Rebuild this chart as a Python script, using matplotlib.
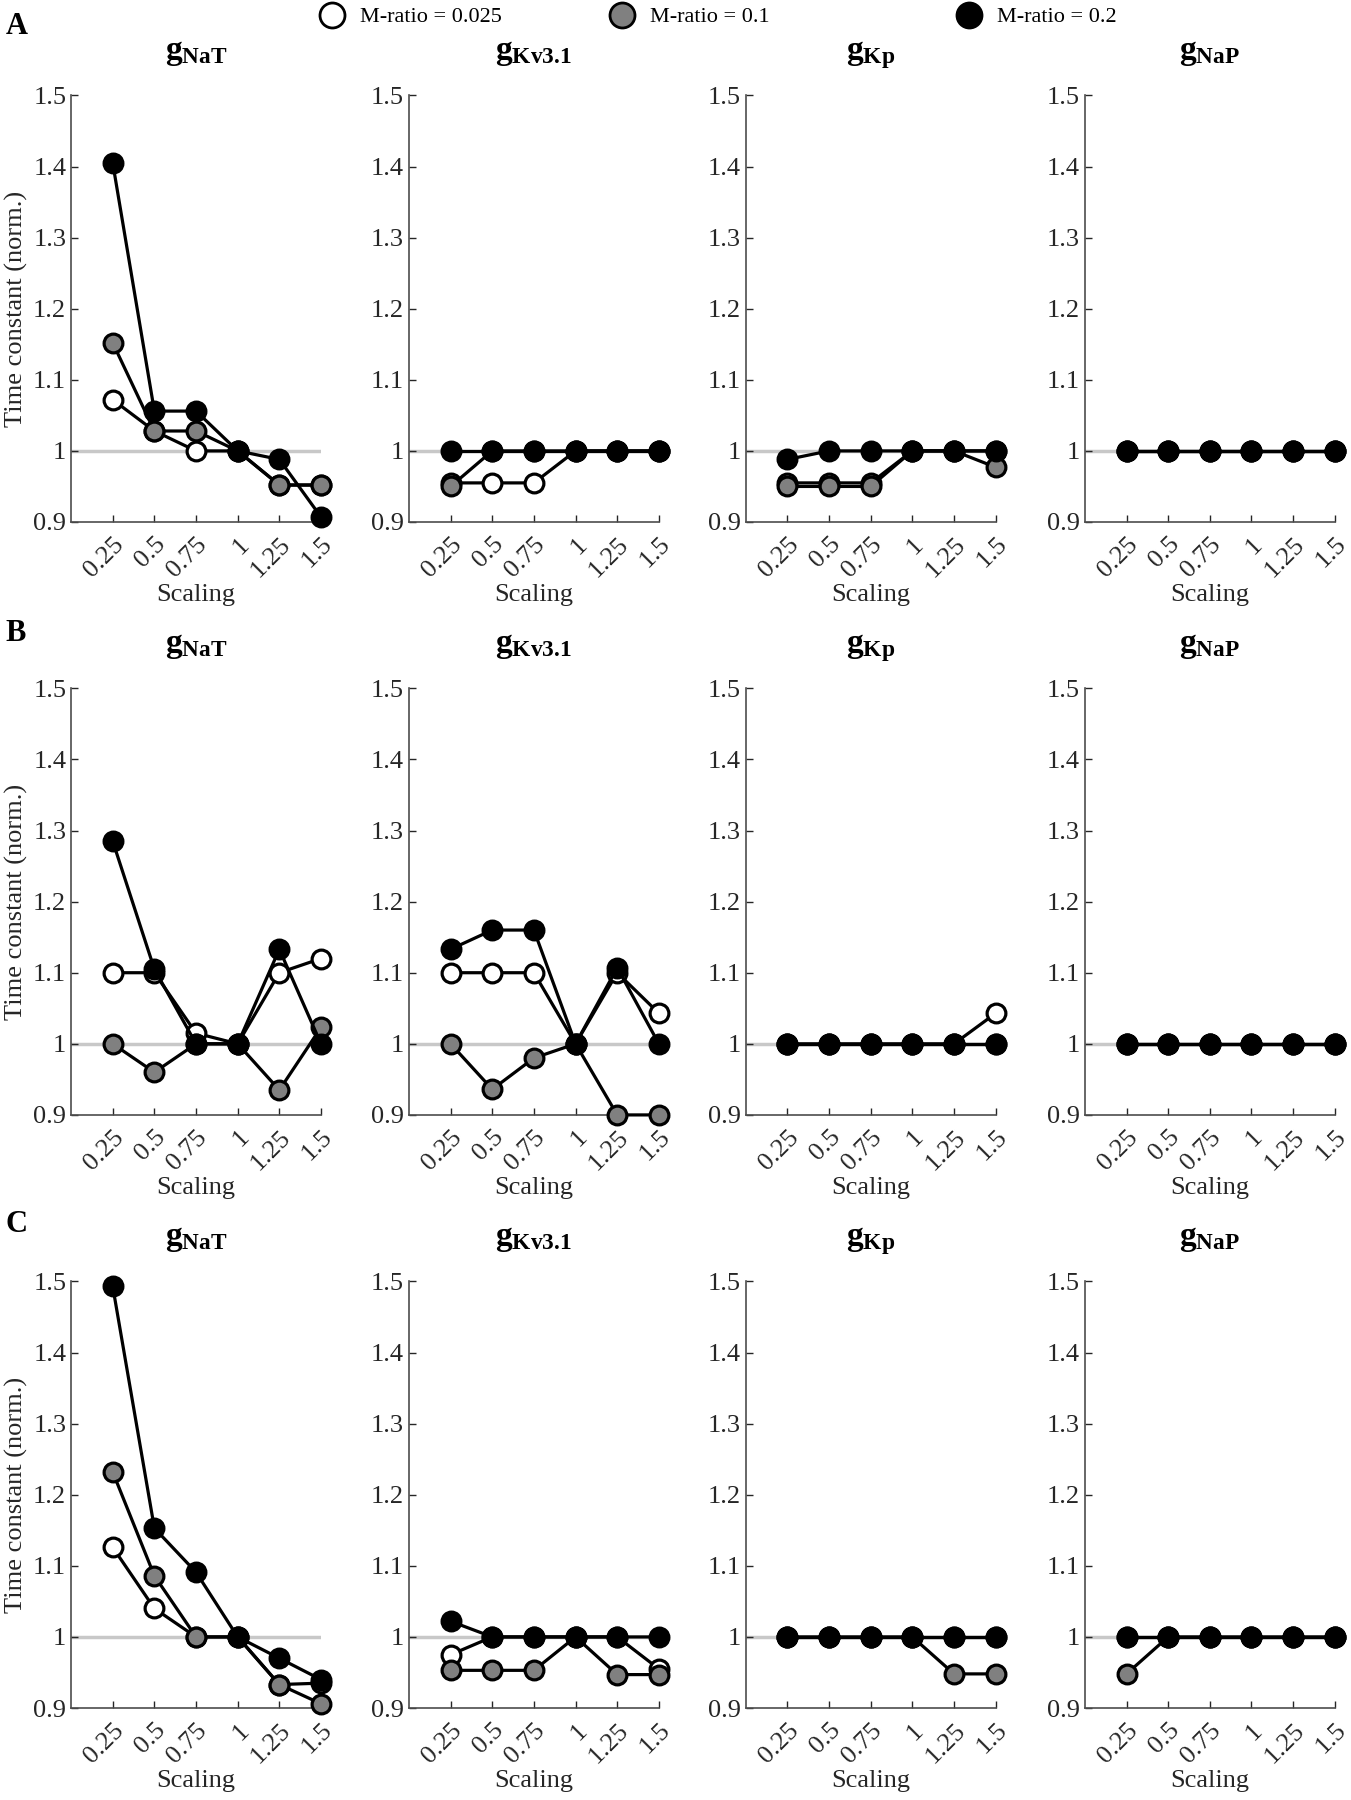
import numpy as np
import matplotlib
matplotlib.use("Agg")
import matplotlib.pyplot as plt
from matplotlib.lines import Line2D

plt.rcParams["font.family"] = ["Liberation Serif", "DejaVu Serif"]
plt.rcParams["mathtext.fontset"] = "custom"
plt.rcParams["mathtext.rm"] = "Liberation Serif"
plt.rcParams["mathtext.bf"] = "Liberation Serif:bold"

scaling = [0.25, 0.5, 0.75, 1.0, 1.25, 1.5]
tick_labels = ["0.25", "0.5", "0.75", "1", "1.25", "1.5"]
channels = ["NaT", "Kv3.1", "Kp", "NaP"]
panels = ["A", "B", "C"]
ratio_labels = ["M-ratio = 0.025", "M-ratio = 0.1", "M-ratio = 0.2"]
fills = ["white", "#808080", "black"]

# values per panel -> channel -> [M 0.025, M 0.1, M 0.2]
A_NaT = [[1.072, 1.028, 1.0, 1.0, 0.952, 0.952],
         [1.152, 1.028, 1.028, 1.0, 0.952, 0.952],
         [1.405, 1.056, 1.056, 1.0, 0.988, 0.907]]
A_Kv31 = [[0.955, 0.955, 0.955, 1.0, 1.0, 1.0],
          [0.950, 1.0, 1.0, 1.0, 1.0, 1.0],
          [1.0, 1.0, 1.0, 1.0, 1.0, 1.0]]
A_Kp = [[0.955, 0.955, 0.955, 1.0, 1.0, 1.0],
        [0.950, 0.950, 0.950, 1.0, 1.0, 0.977],
        [0.988, 1.0, 1.0, 1.0, 1.0, 1.0]]
A_NaP = [[1.0] * 6, [1.0] * 6, [1.0] * 6]

B_NaT = [[1.10, 1.10, 1.015, 1.0, 1.10, 1.12],
         [1.0, 0.96, 1.0, 1.0, 0.935, 1.023],
         [1.285, 1.105, 1.0, 1.0, 1.133, 1.0]]
B_Kv31 = [[1.10, 1.10, 1.10, 1.0, 1.10, 1.043],
          [1.0, 0.936, 0.98, 1.0, 0.90, 0.90],
          [1.133, 1.16, 1.16, 1.0, 1.107, 1.0]]
B_Kp = [[1.0, 1.0, 1.0, 1.0, 1.0, 1.043],
        [1.0] * 6,
        [1.0] * 6]
B_NaP = [[1.0] * 6, [1.0] * 6, [1.0] * 6]

C_NaT = [[1.126, 1.04, 1.0, 1.0, 0.933, 0.935],
         [1.232, 1.086, 1.0, 1.0, 0.933, 0.906],
         [1.493, 1.153, 1.091, 1.0, 0.97, 0.94]]
C_Kv31 = [[0.975, 1.0, 1.0, 1.0, 1.0, 0.955],
          [0.953, 0.953, 0.953, 1.0, 0.947, 0.947],
          [1.022, 1.0, 1.0, 1.0, 1.0, 1.0]]
C_Kp = [[1.0] * 6,
        [1.0, 1.0, 1.0, 1.0, 0.948, 0.948],
        [1.0] * 6]
C_NaP = [[1.0] * 6,
         [0.948, 1.0, 1.0, 1.0, 1.0, 1.0],
         [1.0] * 6]

data = [[A_NaT, A_Kv31, A_Kp, A_NaP],
        [B_NaT, B_Kv31, B_Kp, B_NaP],
        [C_NaT, C_Kv31, C_Kp, C_NaP]]

fig = plt.figure(figsize=(13.51, 18), dpi=100)

col_left = [0.0526, 0.3027, 0.552, 0.803]
row_bottom = [0.710, 0.3806, 0.0511]
w, h = 0.185, 0.237
axis_col = "#4d4d4d"

for r in range(3):
    for c in range(4):
        ax = fig.add_axes([col_left[c], row_bottom[r], w, h])
        ax.plot([0, 1.5], [1, 1], color="#c8c8c8", lw=2.5, zorder=1)
        for k in range(3):
            ax.plot(scaling, data[r][c][k], "-o", color="black", lw=2.3,
                    markersize=13.5, markerfacecolor=fills[k],
                    markeredgecolor="black", markeredgewidth=2.3,
                    zorder=2 + k, clip_on=False)
        ax.set_xlim(0, 1.5)
        ax.set_ylim(0.9, 1.5)
        ax.set_yticks([0.9, 1.0, 1.1, 1.2, 1.3, 1.4, 1.5])
        ax.set_yticklabels(["0.9", "1", "1.1", "1.2", "1.3", "1.4", "1.5"])
        ax.set_xticks(scaling)
        ax.set_xticklabels(tick_labels, rotation=45, ha="right",
                           rotation_mode="anchor")
        ax.tick_params(direction="in", length=5, labelsize=19,
                       colors="#262626", width=1)
        ax.tick_params(axis="x", pad=8)
        for s in ["top", "right"]:
            ax.spines[s].set_visible(False)
        for s in ["left", "bottom"]:
            ax.spines[s].set_color(axis_col)
            ax.spines[s].set_linewidth(1.2)
        ax.set_xlabel("Scaling", fontsize=19, color="#262626", labelpad=2)
        if c == 0:
            ax.set_ylabel("Time constant (norm.)", fontsize=19,
                          color="#262626", labelpad=4)
        ax.set_title(r"$\mathbf{g_{%s}}$" % channels[c], fontsize=24, pad=26)

for r, letter in enumerate(panels):
    y = [0.985, 0.648, 0.32][r]
    fig.text(0.004, y, letter, fontsize=22, fontweight="bold", va="center")

# legend entries sit at fixed positions across the top
legend_x = [0.2333, 0.4483, 0.7048]
for k in range(3):
    hnd = Line2D([], [], ls="none", marker="o", markersize=18,
                 markerfacecolor=fills[k], markeredgecolor="black",
                 markeredgewidth=2)
    fig.legend([hnd], [ratio_labels[k]], loc="center left",
               bbox_to_anchor=(legend_x[k], 0.9905), frameon=False,
               fontsize=16, handlelength=1.5, handletextpad=0.5,
               borderaxespad=0, borderpad=0)

fig.savefig("out.png", dpi=100)
